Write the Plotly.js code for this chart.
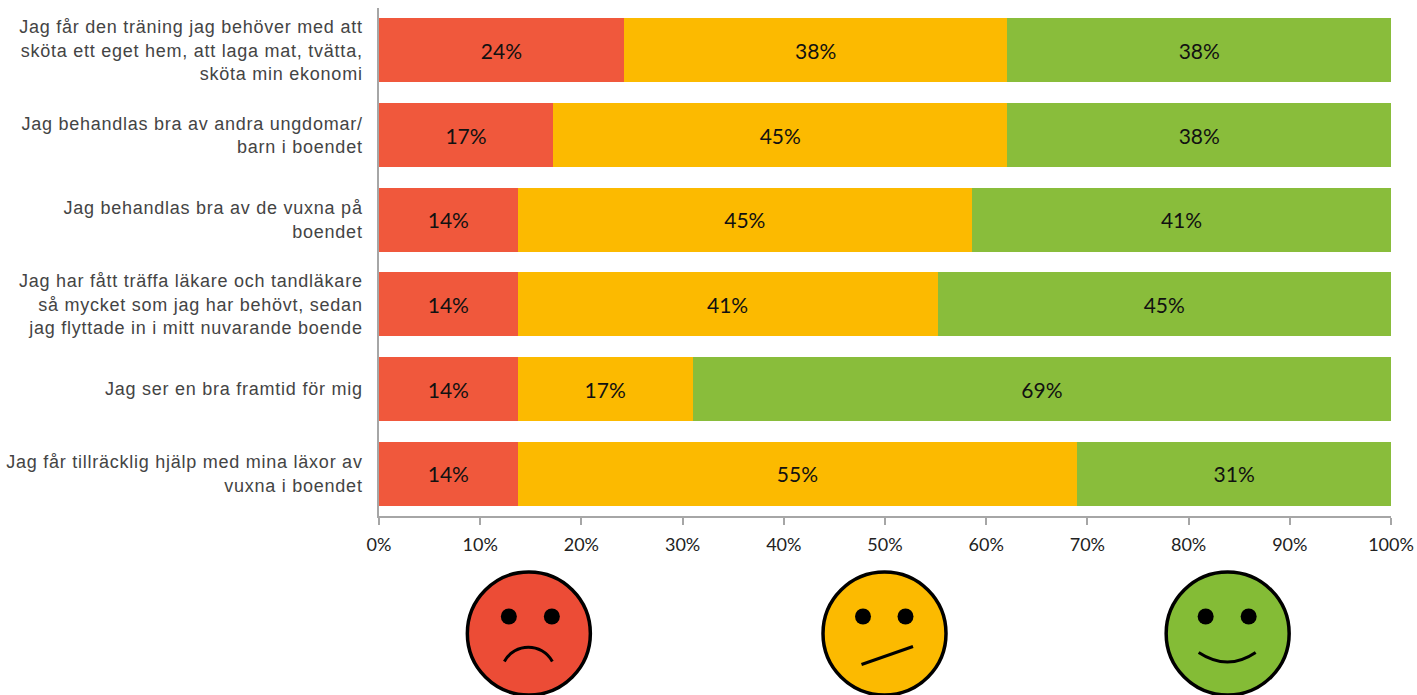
<!DOCTYPE html>
<html><head><meta charset="utf-8">
<script src="https://cdn.plot.ly/plotly-3.0.1.min.js"></script>
<style>html,body{margin:0;padding:0;background:#fff}#c{width:1417px;height:695px}
.ytick text{letter-spacing:0.75px}</style>
</head><body><div id="c"></div>
<script>
const categories = [
 "Jag får den träning jag behöver med att<br>sköta ett eget hem, att laga mat, tvätta,<br>sköta min ekonomi",
 "Jag behandlas bra av andra ungdomar/<br>barn i boendet",
 "Jag behandlas bra av de vuxna på<br>boendet",
 "Jag har fått träffa läkare och tandläkare<br>så mycket som jag har behövt, sedan<br>jag flyttade in i mitt nuvarande boende",
 "Jag ser en bra framtid för mig",
 "Jag får tillräcklig hjälp med mina läxor av<br>vuxna i boendet"
];
const negative = [24.2, 17.2, 13.7, 13.7, 13.7, 13.7];
const neutral  = [37.9, 44.9, 44.9, 41.49, 17.3, 55.3];
const positive = [37.9, 37.9, 41.4, 44.81, 69.0, 31.0];
const colours = {neg:"#F0583C", mid:"#FCBA00", pos:"#89BD3B"};
const faceColours = {neg:"#EC4C36", mid:"#FCBA00", pos:"#84BC36"};

const W=1417,H=695,L=378.5,R=25.5,T=8,B=179,PW=W-L-R,PH=H-T-B;
const px=x=>(x-L)/PW, py=y=>1-(y-T)/PH;

function bar(name,vals,col){
 return {type:"bar",orientation:"h",name,x:vals,y:categories,
  marker:{color:col,line:{width:0}},
  texttemplate:"%{x:.0f}%",textposition:"inside",insidetextanchor:"middle",textangle:0,
  insidetextfont:{family:"Lato, 'Open Sans', sans-serif",size:21,color:"#111"},
  hoverinfo:"x+y"};
}
function face(cx,cy,col,eyes,mouth){
 const base={xref:"paper",yref:"paper",xsizemode:"pixel",ysizemode:"pixel",xanchor:px(cx),yanchor:py(cy)};
 const out=[];
 out.push({...base,type:"circle",x0:-61.5,x1:61.5,y0:-61.5,y1:61.5,fillcolor:col,line:{color:"#000",width:3.5}});
 for(const dx of eyes) out.push({...base,type:"circle",x0:dx-8,x1:dx+8,y0:9,y1:25,fillcolor:"#000",line:{width:0}});
 out.push({...base,type:"path",path:mouth,line:{color:"#000",width:3}});
 return out;
}
const shapes=[
 ...face(528.5,633.5,faceColours.neg,[-20,23],"M-24.5,-28 C-14,-9 13,-9 23.5,-28"),
 ...face(884.5,633.5,faceColours.mid,[-21.5,21],"M-23,-31 L28.5,-13"),
 ...face(1228,633.5,faceColours.pos,[-22,21],"M-29,-19 Q0,-38 28,-19")
];

Plotly.newPlot("c",[bar("neg",negative,colours.neg),bar("mid",neutral,colours.mid),bar("pos",positive,colours.pos)],{
 width:W,height:H,barmode:"stack",bargap:0.245,showlegend:false,
 paper_bgcolor:"#fff",plot_bgcolor:"#fff",
 margin:{l:L,r:R,t:T,b:B,pad:0},
 xaxis:{range:[0,100],tickmode:"linear",tick0:0,dtick:10,ticksuffix:"%",ticks:"outside",ticklen:7,tickwidth:1.5,tickcolor:"#a6a6a6",
  showgrid:false,zeroline:false,showline:true,linecolor:"#a6a6a6",linewidth:1.5,ticklabelstandoff:5,
  tickfont:{family:"Lato, sans-serif",size:18,color:"#222"}},
 yaxis:{type:"category",categoryorder:"array",categoryarray:categories,autorange:"reversed",ticks:"",showgrid:false,zeroline:false,
  showline:true,linecolor:"#a6a6a6",linewidth:1.5,ticklabelstandoff:11,
  tickfont:{family:"'Liberation Sans', sans-serif",size:18,color:"#444"}},
 shapes
},{displayModeBar:false});
</script></body></html>
